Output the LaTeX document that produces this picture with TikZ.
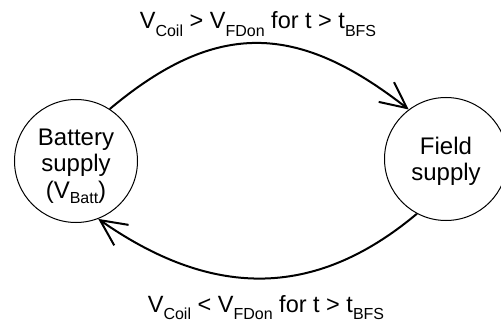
\documentclass[tikz,border=0pt]{standalone}
\usepackage{fontspec}
\setmainfont{Liberation Sans}
\usetikzlibrary{arrows.meta}
\newcommand{\lsub}[1]{\raisebox{-7.5pt}{\fontsize{16}{16}\selectfont #1}}
\newcommand{\csub}[1]{\raisebox{-5pt}{\fontsize{16}{16}\selectfont #1}}
\tikzset{
  state/.style={circle, draw, line width=1pt, minimum size=123pt, inner sep=0pt,
    align=center, font=\fontsize{24}{26}\selectfont},
  trans/.style={line width=2pt, -{Straight Barb[length=26pt, width=25pt, line width=2pt]}},
  cond/.style={anchor=base, inner sep=0pt, font=\fontsize{23.5}{26}\selectfont}
}
\begin{document}
\begin{tikzpicture}
\useasboundingbox (0,0) rectangle (501pt,322pt);
\clip (0,0) rectangle (501pt,322pt);
\node[state] (bat) at (76pt,161pt) {\raisebox{-6pt}[\height][\depth]{\begin{tabular}{@{}c@{}}Battery\\supply\\[1pt](V\csub{Batt})\end{tabular}}};
\node[state] (fld) at (446pt,163pt) {\raisebox{-3pt}[\height][\depth]{\begin{tabular}{@{}c@{}}Field\\supply\end{tabular}}};
\draw[trans] (bat.57) .. controls +(40:140pt) and +(142:140pt) .. (fld.127);
\draw[trans] (fld.242) .. controls +(220:136pt) and +(-35:136pt) .. (bat.291);
\node[cond] (top) at (258pt,293pt) {V\lsub{Coil} > V\lsub{FDon} for t > t\lsub{BFS}};
\node[cond] (bot) at (266pt,10pt) {V\lsub{Coil} < V\lsub{FDon} for t > t\lsub{BFS}};
\end{tikzpicture}
\end{document}
